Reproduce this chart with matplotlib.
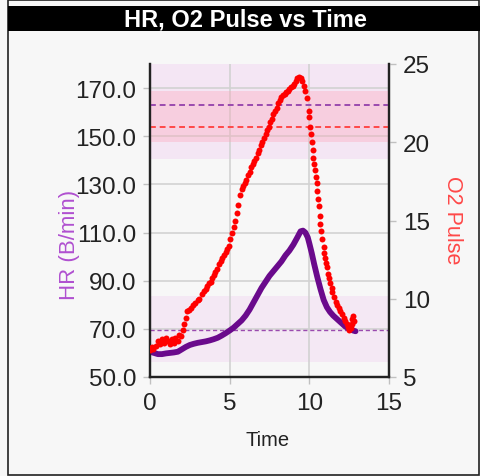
import matplotlib
matplotlib.use("Agg")
import matplotlib.pyplot as plt
from matplotlib.patches import Rectangle

plt.rcParams['font.family'] = ['Liberation Sans', 'DejaVu Sans']

# O2 pulse samples (time in min, ml/beat)
o2_time = [0.0, 0.1, 0.2, 0.35, 0.5, 0.6, 0.75, 0.9, 1.0, 1.1, 1.25, 1.4, 1.5, 1.6, 1.75,
           1.85, 1.95, 2.05, 2.15, 2.25, 2.35, 2.45, 2.6, 2.7, 2.85, 3.0, 3.1, 3.25, 3.4,
           3.5, 3.6, 3.7, 3.8, 3.9, 4.0, 4.1, 4.2, 4.35, 4.45, 4.55, 4.65, 4.75, 4.85,
           4.95, 5.05, 5.15, 5.25, 5.35, 5.45, 5.55, 5.65, 5.75, 5.85, 5.95, 6.05, 6.15,
           6.25, 6.35, 6.45, 6.55, 6.65, 6.75, 6.85, 6.95, 7.05, 7.15, 7.25, 7.35, 7.45,
           7.55, 7.65, 7.75, 7.85, 7.95, 8.05, 8.15, 8.25, 8.35, 8.45, 8.55, 8.65, 8.75,
           8.85, 8.95, 9.05, 9.15, 9.25, 9.35, 9.45, 9.55, 9.65, 9.75, 9.85, 9.95, 10.0,
           10.05, 10.1, 10.15, 10.2, 10.25, 10.3, 10.35, 10.4, 10.45, 10.5, 10.55, 10.6,
           10.65, 10.7, 10.75, 10.8, 10.9, 10.95, 11.0, 11.05, 11.1, 11.2, 11.25, 11.3,
           11.4, 11.45, 11.55, 11.65, 11.75, 11.85, 11.95, 12.05, 12.15, 12.25, 12.35,
           12.4, 12.5, 12.55, 12.6, 12.65, 12.7, 12.75, 12.8]
o2_pulse = [6.7, 6.9, 6.8, 7.0, 7.3, 7.1, 7.4, 7.2, 7.5, 7.3, 7.1, 7.4, 7.2, 7.5, 7.3,
            7.7, 7.6, 8.0, 8.4, 8.8, 9.2, 9.3, 9.4, 9.6, 9.7, 9.9, 10.0, 10.3, 10.5,
            10.6, 10.8, 11.0, 11.1, 11.3, 11.5, 11.7, 11.9, 12.2, 12.4, 12.6, 12.8, 13.0, 13.2,
            13.4, 13.8, 14.2, 14.6, 15.0, 15.5, 16.0, 16.6, 17.0, 17.2, 17.4, 17.6, 17.9,
            18.1, 18.4, 18.6, 18.8, 19.0, 19.3, 19.5, 19.8, 20.0, 20.3, 20.5, 20.8, 21.0,
            21.3, 21.5, 21.8, 22.0, 22.2, 22.5, 22.7, 22.9, 23.0, 23.1, 23.2, 23.3, 23.4,
            23.5, 23.6, 23.7, 23.9, 24.1, 24.2, 24.1, 23.9, 23.6, 23.3, 22.8, 22.0, 21.6,
            21.0, 20.5, 20.0, 19.5, 19.0, 18.6, 18.2, 17.8, 17.4, 16.9, 16.4, 15.9,
            15.3, 14.8, 14.3, 13.8, 13.3, 12.9, 12.6, 12.3, 12.0, 11.6, 11.3, 11.0,
            10.7, 10.4, 10.1, 9.8, 9.6, 9.4, 9.2, 9.0, 8.8, 8.6, 8.4,
            8.2, 8.0, 8.3, 8.1, 8.4, 8.7, 8.9, 8.6]

# heart rate samples (time in min, beats/min)
hr_time = [0.0, 0.25, 0.5, 0.75, 1.0, 1.25, 1.5, 1.75, 2.0, 2.25, 2.5, 2.75, 3.0, 3.25,
           3.5, 3.75, 4.0, 4.25, 4.5, 4.75, 5.0, 5.25, 5.5, 5.75, 6.0, 6.25, 6.5, 6.75,
           7.0, 7.25, 7.5, 7.75, 8.0, 8.25, 8.5, 8.75, 9.0, 9.25, 9.45, 9.6, 9.75, 9.9,
           10.0, 10.15, 10.3, 10.5, 10.7, 10.9, 11.1, 11.3, 11.5, 11.75, 12.0, 12.25,
           12.5, 12.75, 12.9]
hr = [60.5, 60.0, 59.5, 59.5, 59.8, 60.0, 60.2, 60.5, 61.5, 62.5, 63.3, 63.8, 64.2, 64.5,
      64.8, 65.2, 65.7, 66.3, 67.2, 68.2, 69.3, 70.5, 72.0, 73.5, 75.5, 78.0, 81.0, 84.0,
      87.0, 89.5, 92.0, 94.0, 96.0, 98.0, 100.5, 102.5, 105.0, 108.0, 110.5, 110.8, 110.0, 108.0,
      105.5, 101.5, 97.0, 91.5, 86.5, 82.0, 79.0, 77.0, 75.5, 74.0, 72.5, 71.0,
      70.0, 69.3, 69.0]

# reference levels
hr_rest, hr_rest_band = 69.5, (56.4, 83.8)
hr_max, hr_max_band = 163.0, (140.5, 185.0)
o2_pred, o2_pred_band = 21.0, (20.0, 23.3)

x_ticks = [0, 5, 10, 15]
hr_ticks = [50, 70, 90, 110, 130, 150, 170]
o2_ticks = [5, 10, 15, 20, 25]

bg = "#f7f7f7"
purple = "#6a0a8c"
fig = plt.figure(figsize=(4.81, 4.77), dpi=100, facecolor=bg)
ax = fig.add_axes([150 / 481, 1 - 378 / 477, 239 / 481, 313 / 477], facecolor=bg)
ax2 = ax.twinx()

# bands and reference lines
ax.axhspan(*hr_max_band, color="#f4e6f4", zorder=0, lw=0)
ax.axhspan(*hr_rest_band, color="#f4e8f4", zorder=0, lw=0)
ax2.axhspan(*o2_pred_band, color="#ff9fb5", alpha=0.33, zorder=0, lw=0)
# HR max line sits above the O2 band, so it goes on ax2 in HR coordinates
ax2.plot([0, 1], [hr_max, hr_max], transform=ax.get_yaxis_transform(),
         color="#9a4aae", ls=(0, (3, 2)), lw=1.4, zorder=1)
ax.axhline(hr_rest, color="#9a4aae", ls=(0, (3, 2)), lw=1.0)
ax2.axhline(o2_pred, color="#ff4848", ls=(0, (3, 2)), lw=1.4, zorder=1)

ax.plot(hr_time, hr, color=purple, lw=4.2, solid_capstyle="round", zorder=3)
ax2.plot(o2_time, o2_pulse, ls="none", marker="o", ms=4.3, color="#ff0000",
         markeredgewidth=0, zorder=4)

ax.set_xlim(0, 15)
ax.set_ylim(50, 180)
ax2.set_ylim(5, 25)
ax.set_xticks(x_ticks)
ax.set_yticks(hr_ticks)
ax.set_yticklabels([f"{v:.1f}" for v in hr_ticks])
ax2.set_yticks(o2_ticks)

ax.grid(True, color="#d2d2d2", lw=1.2, zorder=1)
ax.set_axisbelow(True)
ax.yaxis.get_gridlines()[0].set_visible(False)

for a in (ax, ax2):
    a.tick_params(labelsize=17.5, colors="#c0c0c0", labelcolor="#222222", length=5, width=1)
    a.spines["top"].set_visible(False)
    for s in ("left", "right", "bottom"):
        a.spines[s].set_color("#222222")
        a.spines[s].set_linewidth(1.6)
ax.tick_params(axis="y", pad=5)
ax2.tick_params(axis="y", pad=5)
ax.tick_params(axis="x", pad=6)

# labels
fig.text(70 / 481, 1 - 245 / 477, "HR (B/min)", rotation=90, ha="center", va="center",
         fontsize=16, color="#b050d0")
fig.text(453 / 481, 1 - 220 / 477, "O2 Pulse", rotation=-90, ha="center", va="center",
         fontsize=15.5, color="#ff4848")
fig.text(268 / 481, 1 - 441 / 477, "Time", ha="center", va="center", fontsize=14.5,
         color="#222222")

# title bar and frame
fig.patches.append(Rectangle((8 / 481, 1 / 477), 471 / 481, 475 / 477, transform=fig.transFigure,
                             fill=False, edgecolor="#222222", lw=1.2))
fig.patches.append(Rectangle((8 / 481, 1 - 32 / 477), 473 / 481, 25 / 477,
                             transform=fig.transFigure, facecolor="black", edgecolor="none"))
fig.text(245 / 481, 1 - 19.5 / 477, "HR, O2 Pulse vs Time", ha="center", va="center",
         fontsize=17, fontweight="bold", color="white")

fig.savefig("out.png", dpi=100, facecolor=bg)
